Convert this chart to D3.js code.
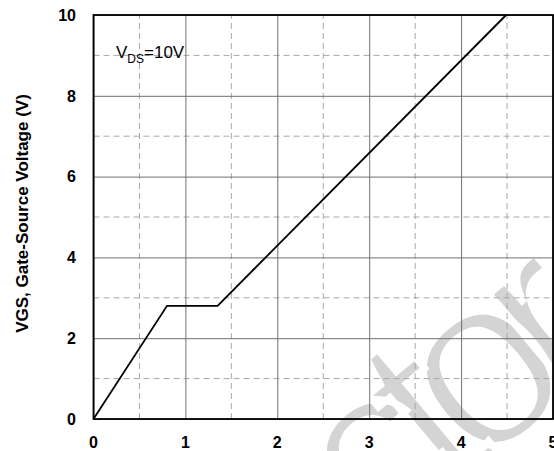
<!DOCTYPE html>
<html>
<head>
<meta charset="utf-8">
<script src="https://cdn.jsdelivr.net/npm/d3@7"></script>
<style>
  html, body { margin: 0; padding: 0; background: #fff; }
  svg { display: block; }
  text { font-family: "Liberation Sans", Arial, sans-serif; }
</style>
</head>
<body>
<svg id="chart" width="554" height="451"></svg>
<script>
// Data: Gate charge (nC) vs VGS (V)
const chargeQg = [0, 0.80, 1.35, 4.49];
const voltageVgs = [0, 2.8, 2.8, 10];
const xTicks = [0, 1, 2, 3, 4, 5];
const yTicks = [0, 2, 4, 6, 8, 10];
const xMinorGrid = [0.5, 1.5, 2.5, 3.5, 4.5];
const yMinorGrid = [1, 3, 5, 7, 9];
const yTitle = "VGS, Gate-Source Voltage (V)";
const watermark = "ctor";

const svg = d3.select("#chart");
const margin = { left: 93.5, right: 1, top: 15, bottom: 32 };
const W = 554, H = 451;

const x = d3.scaleLinear().domain([0, 5]).range([margin.left, W - margin.right]);
const y = d3.scaleLinear().domain([0, 10]).range([H - margin.bottom, margin.top]);

// watermark (behind everything); white stroke thins the glyph strokes
svg.append("text")
  .attr("transform", "translate(378,556) rotate(-40)")
  .attr("font-size", 245)
  .attr("letter-spacing", -30)
  .attr("fill", "#d4d4d4")
  .attr("stroke", "#fff")
  .attr("stroke-width", 7)
  .text(watermark);

const g = svg.append("g");

// minor dashed grid
g.selectAll(".vx").data(xMinorGrid).enter().append("line")
  .attr("x1", d => x(d)).attr("x2", d => x(d))
  .attr("y1", y(0)).attr("y2", y(10))
  .attr("stroke", "#a8a8a8").attr("stroke-width", 1).attr("stroke-dasharray", "6,4");
g.selectAll(".hy").data(yMinorGrid).enter().append("line")
  .attr("x1", x(0)).attr("x2", x(5))
  .attr("y1", d => y(d)).attr("y2", d => y(d))
  .attr("stroke", "#a8a8a8").attr("stroke-width", 1).attr("stroke-dasharray", "6,4");

// major solid grid
const xAxis = d3.axisBottom(x).tickValues(xTicks).tickSize(-(y(0) - y(10))).tickFormat("");
const yAxis = d3.axisLeft(y).tickValues(yTicks).tickSize(-(x(5) - x(0))).tickFormat("");
const gx = g.append("g").attr("transform", `translate(0,${y(0)})`).call(xAxis);
const gy = g.append("g").attr("transform", `translate(${x(0)},0)`).call(yAxis);
[gx, gy].forEach(a => {
  a.select(".domain").remove();
  a.selectAll(".tick line").attr("stroke", "#707070").attr("stroke-width", 1);
});

// frame
g.append("rect")
  .attr("x", x(0)).attr("y", y(10))
  .attr("width", x(5) - x(0)).attr("height", y(0) - y(10))
  .attr("fill", "none").attr("stroke", "#000").attr("stroke-width", 1.8);

// curve
const line = d3.line().x((d, i) => x(chargeQg[i])).y(d => y(d));
g.append("path")
  .datum(voltageVgs)
  .attr("d", line)
  .attr("fill", "none").attr("stroke", "#000").attr("stroke-width", 1.8);

// tick labels
svg.append("g").selectAll("text").data(xTicks).enter().append("text")
  .attr("x", d => x(d)).attr("y", H - margin.bottom + 29)
  .attr("text-anchor", "middle")
  .attr("font-size", 16).attr("font-weight", "bold")
  .text(d => d);
svg.append("g").selectAll("text").data(yTicks).enter().append("text")
  .attr("x", 76).attr("y", d => y(d) + 5.8)
  .attr("text-anchor", "end")
  .attr("font-size", 16).attr("font-weight", "bold")
  .text(d => d);

// y title
svg.append("text")
  .attr("transform", `translate(28,${(70 + 357) / 2}) rotate(-90)`)
  .attr("text-anchor", "middle")
  .attr("font-size", 17).attr("font-weight", "bold")
  .text(yTitle);

// annotation
const ann = svg.append("text").attr("x", 116).attr("y", 58).attr("font-size", 17);
ann.append("tspan").text("V");
ann.append("tspan").attr("font-size", 12).attr("dy", 5).text("DS");
ann.append("tspan").attr("dy", -5).text("=10V");
</script>
</body>
</html>
